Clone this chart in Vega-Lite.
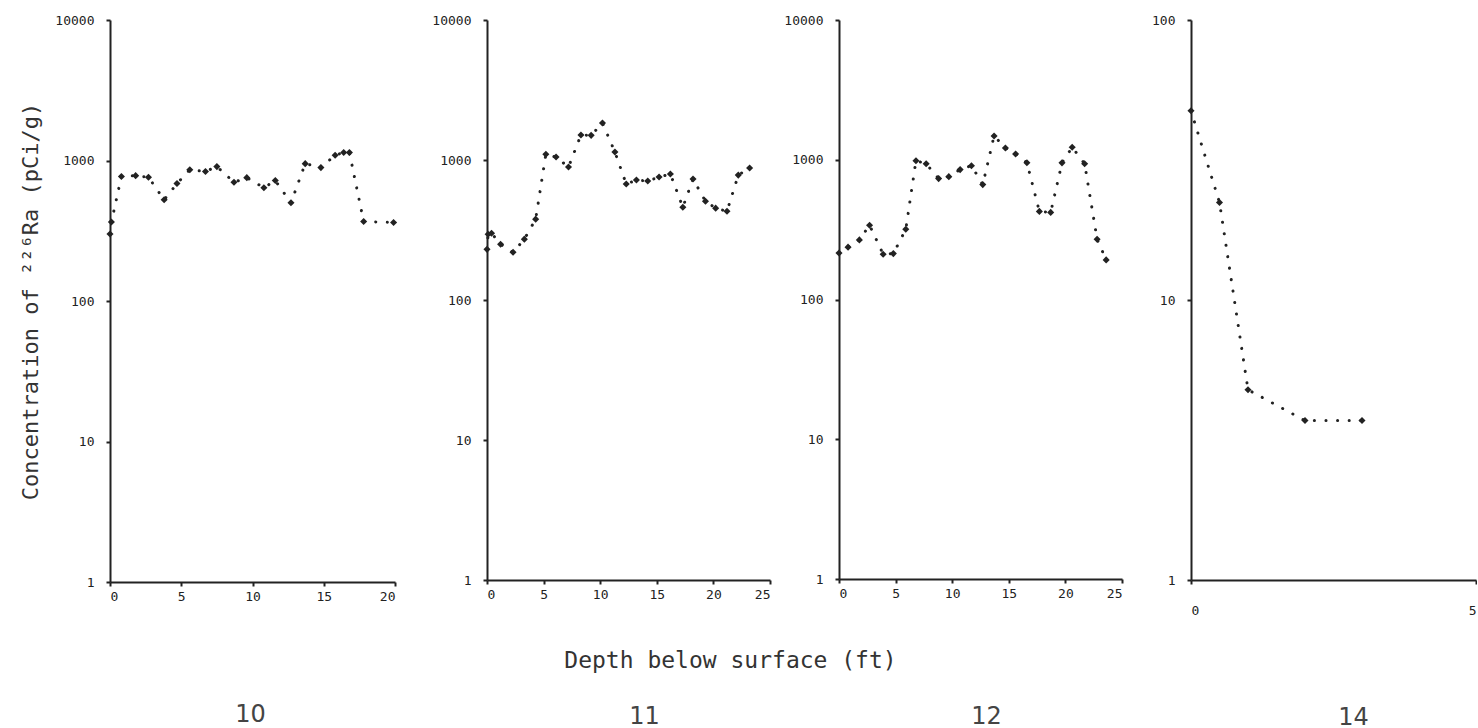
{
  "$schema": "https://vega.github.io/schema/vega-lite/v6.json",
  "background": "white",
  "padding": {"left": 19, "top": 14, "right": 0, "bottom": 0},
  "bounds": "flush",
  "spacing": 92,
  "config": {
    "view": {"stroke": null},
    "font": "DejaVu Sans Mono",
    "axis": {
      "grid": false,
      "domainColor": "#222",
      "domainWidth": 2,
      "tickColor": "#222",
      "tickWidth": 2,
      "tickSize": 4,
      "labelFont": "DejaVu Sans Mono",
      "labelFontSize": 13,
      "labelColor": "#222",
      "titleFont": "DejaVu Sans Mono",
      "titleFontWeight": "normal",
      "titleColor": "#333"
    }
  },
  "datasets": {
    "d10": [
      {"depth": 0, "conc": 300},
      {"depth": 0.1, "conc": 365},
      {"depth": 0.8, "conc": 770},
      {"depth": 1.8, "conc": 780},
      {"depth": 2.7, "conc": 760},
      {"depth": 3.8, "conc": 525},
      {"depth": 4.7, "conc": 685},
      {"depth": 5.6, "conc": 860},
      {"depth": 6.7, "conc": 835},
      {"depth": 7.5, "conc": 905},
      {"depth": 8.7, "conc": 700},
      {"depth": 9.6, "conc": 755},
      {"depth": 10.8, "conc": 640},
      {"depth": 11.6, "conc": 720},
      {"depth": 12.7, "conc": 500},
      {"depth": 13.7, "conc": 950},
      {"depth": 14.8, "conc": 890},
      {"depth": 15.8, "conc": 1090},
      {"depth": 16.4, "conc": 1140},
      {"depth": 16.8, "conc": 1140},
      {"depth": 17.8, "conc": 368},
      {"depth": 19.9, "conc": 362}
    ],
    "d11": [
      {"depth": 0, "conc": 230},
      {"depth": 0.1, "conc": 295},
      {"depth": 0.4, "conc": 300},
      {"depth": 1.2, "conc": 250},
      {"depth": 2.3, "conc": 219},
      {"depth": 3.3, "conc": 272},
      {"depth": 4.3, "conc": 378},
      {"depth": 5.2, "conc": 1100},
      {"depth": 6.1, "conc": 1050},
      {"depth": 7.2, "conc": 890},
      {"depth": 8.3, "conc": 1510},
      {"depth": 9.2, "conc": 1500},
      {"depth": 10.2, "conc": 1840},
      {"depth": 11.3, "conc": 1140},
      {"depth": 12.3, "conc": 673},
      {"depth": 13.2, "conc": 719},
      {"depth": 14.2, "conc": 707},
      {"depth": 15.2, "conc": 755},
      {"depth": 16.2, "conc": 794},
      {"depth": 17.3, "conc": 460},
      {"depth": 18.2, "conc": 731},
      {"depth": 19.3, "conc": 508},
      {"depth": 20.2, "conc": 453},
      {"depth": 21.2, "conc": 430},
      {"depth": 22.2, "conc": 780},
      {"depth": 23.2, "conc": 877}
    ],
    "d12": [
      {"depth": 0, "conc": 215},
      {"depth": 0.8, "conc": 237},
      {"depth": 1.8, "conc": 267},
      {"depth": 2.7, "conc": 340},
      {"depth": 3.9, "conc": 211},
      {"depth": 4.8, "conc": 213},
      {"depth": 5.9, "conc": 318},
      {"depth": 6.8, "conc": 985},
      {"depth": 7.7, "conc": 935},
      {"depth": 8.8, "conc": 733},
      {"depth": 9.7, "conc": 757},
      {"depth": 10.7, "conc": 850},
      {"depth": 11.7, "conc": 907},
      {"depth": 12.7, "conc": 664},
      {"depth": 13.7, "conc": 1480},
      {"depth": 14.7, "conc": 1215},
      {"depth": 15.6, "conc": 1100},
      {"depth": 16.6, "conc": 952},
      {"depth": 17.7, "conc": 427},
      {"depth": 18.7, "conc": 420},
      {"depth": 19.7, "conc": 950},
      {"depth": 20.6, "conc": 1230},
      {"depth": 21.7, "conc": 935},
      {"depth": 22.8, "conc": 270},
      {"depth": 23.6, "conc": 192}
    ],
    "d14": [
      {"depth": 0, "conc": 47.4},
      {"depth": 0.5, "conc": 22.3},
      {"depth": 1, "conc": 4.78},
      {"depth": 2, "conc": 3.71},
      {"depth": 3, "conc": 3.71}
    ]
  },
  "hconcat": [
    {
      "width": 285,
      "height": 562,
      "data": {"name": "d10"},
      "encoding": {
        "x": {"field": "depth", "type": "quantitative", "scale": {"domain": [0, 20], "nice": false},
          "axis": {"values": [0, 5, 10, 15, 20], "labelPadding": 4, "title": "10", "titleX": 140, "titleY": 132,
            "titleFont": "DejaVu Sans", "titleFontSize": 24, "titleBaseline": "middle", "titleAlign": "center", "titleColor": "#444"}},
        "y": {"field": "conc", "type": "quantitative", "scale": {"type": "log", "domain": [1, 10000], "nice": false},
          "axis": {"values": [1, 10, 100, 1000, 10000], "format": "d", "labelPadding": 12,
            "title": "Concentration of ²²⁶Ra (pCi/g)", "titleX": -80, "titleY": 281, "titleFontSize": 22,
            "titleBaseline": "middle", "titleAlign": "center", "titleAngle": -90}}
      },
      "layer": [
        {"mark": {"type": "line", "color": "#222", "strokeWidth": 3, "strokeDash": [0.1, 11.5], "strokeCap": "round"}},
        {"mark": {"type": "point", "shape": "diamond", "filled": true, "size": 50, "color": "#222", "opacity": 1}}
      ]
    },
    {
      "spacing": 69,
      "bounds": "flush",
      "hconcat": [
        {
          "width": 283,
          "height": 560,
          "data": {"name": "d11"},
          "title": {"text": "11", "orient": "bottom", "anchor": "middle", "frame": "group", "dx": 16, "offset": 45,
            "font": "DejaVu Sans", "fontSize": 24, "fontWeight": "normal", "color": "#444", "baseline": "middle"},
          "encoding": {
            "x": {"field": "depth", "type": "quantitative", "scale": {"domain": [0, 25], "nice": false},
              "axis": {"values": [0, 5, 10, 15, 20, 25], "labelPadding": 4, "title": "Depth below surface (ft)", "titleX": 243, "titleY": 80,
                "titleFontSize": 23, "titleBaseline": "middle", "titleAlign": "center"}},
            "y": {"field": "conc", "type": "quantitative", "scale": {"type": "log", "domain": [1, 10000], "nice": false},
              "axis": {"values": [1, 10, 100, 1000, 10000], "format": "d", "labelPadding": 12, "title": null}}
          },
          "layer": [
            {"mark": {"type": "line", "color": "#222", "strokeWidth": 3, "strokeDash": [0.1, 11.5], "strokeCap": "round"}},
            {"mark": {"type": "point", "shape": "diamond", "filled": true, "size": 50, "color": "#222", "opacity": 1}}
          ]
        },
        {
          "width": 283,
          "height": 559,
          "data": {"name": "d12"},
          "encoding": {
            "x": {"field": "depth", "type": "quantitative", "scale": {"domain": [0, 25], "nice": false},
              "axis": {"values": [0, 5, 10, 15, 20, 25], "labelPadding": 4, "title": "12", "titleX": 147, "titleY": 137,
                "titleFont": "DejaVu Sans", "titleFontSize": 24, "titleBaseline": "middle", "titleAlign": "center", "titleColor": "#444"}},
            "y": {"field": "conc", "type": "quantitative", "scale": {"type": "log", "domain": [1, 10000], "nice": false},
              "axis": {"values": [1, 10, 100, 1000, 10000], "format": "d", "labelPadding": 12, "title": null}}
          },
          "layer": [
            {"mark": {"type": "line", "color": "#222", "strokeWidth": 3, "strokeDash": [0.1, 11.5], "strokeCap": "round"}},
            {"mark": {"type": "point", "shape": "diamond", "filled": true, "size": 50, "color": "#222", "opacity": 1}}
          ]
        },
        {
          "width": 285,
          "height": 560,
          "data": {"name": "d14"},
          "encoding": {
            "x": {"field": "depth", "type": "quantitative", "scale": {"domain": [0, 5], "nice": false},
              "axis": {"values": [0, 5], "labelPadding": 20, "labelFlush": true, "title": "14", "titleX": 162, "titleY": 137,
                "titleFont": "DejaVu Sans", "titleFontSize": 24, "titleBaseline": "middle", "titleAlign": "center", "titleColor": "#444"}},
            "y": {"field": "conc", "type": "quantitative", "scale": {"type": "log", "domain": [1, 100], "nice": false},
              "axis": {"values": [1, 10, 100], "format": "d", "labelPadding": 12, "title": null}}
          },
          "layer": [
            {"mark": {"type": "line", "color": "#222", "strokeWidth": 3, "strokeDash": [0.1, 11.5], "strokeCap": "round"}},
            {"mark": {"type": "point", "shape": "diamond", "filled": true, "size": 50, "color": "#222", "opacity": 1}}
          ]
        }
      ]
    }
  ]
}
